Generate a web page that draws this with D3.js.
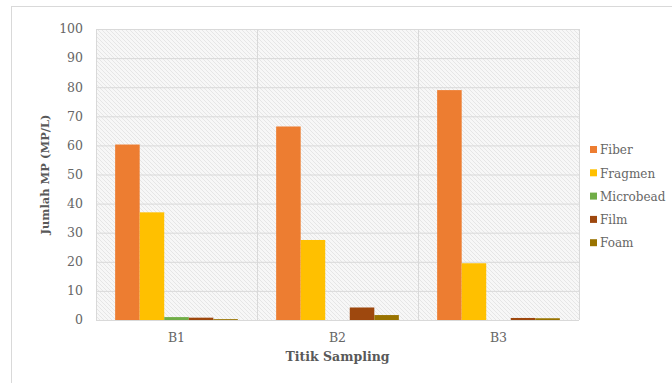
<!DOCTYPE html>
<html><head><meta charset="utf-8">
<script src="https://cdn.jsdelivr.net/npm/d3@7"></script>
<style>body{margin:0;background:#fff}svg{display:block}</style>
</head><body>
<svg id="c" width="672" height="383"></svg>
<script>
const categories = ["B1", "B2", "B3"];
const seriesNames = ["Fiber", "Fragmen", "Microbead", "Film", "Foam"];
const fiber = [60.3, 66.5, 79.0];
const fragmen = [37.0, 27.5, 19.5];
const microbead = [1.0, 0.0, 0.0];
const film = [0.8, 4.3, 0.7];
const foam = [0.3, 1.7, 0.6];
const yTicks = [0, 10, 20, 30, 40, 50, 60, 70, 80, 90, 100];
const colors = ["#ED7D31", "#FFC000", "#70AD47", "#9E480E", "#997300"];
const seriesValues = [fiber, fragmen, microbead, film, foam];

const svg = d3.select("#c");
const font = "'DejaVu Serif', serif";
const M = {l: 96, r: 579, t: 29, b: 320};

// outer frame
svg.append("rect").attr("x", 11.5).attr("y", 6.5).attr("width", 700).attr("height", 400)
  .attr("fill", "#fff").attr("stroke", "#d9d9d9").attr("stroke-width", 1);

const defs = svg.append("defs");
const pat = defs.append("pattern").attr("id", "hatch").attr("patternUnits", "userSpaceOnUse")
  .attr("width", 4).attr("height", 4);
pat.append("rect").attr("width", 4).attr("height", 4).attr("fill", "#f7f7f7");
pat.append("path").attr("d", "M-1,-1 L5,5 M3,-1 L5,1 M-1,3 L1,5").attr("stroke", "#e2e2e2").attr("stroke-width", 0.8);

const x0 = d3.scaleBand().domain(categories).range([M.l, M.r]).paddingInner(0).paddingOuter(0);
const x1 = d3.scaleBand().domain(seriesNames).range([0, x0.bandwidth()]).paddingOuter(0.78).paddingInner(0);
const y = d3.scaleLinear().domain([0, 100]).range([M.b, M.t]);

svg.append("rect").attr("x", M.l).attr("y", M.t).attr("width", M.r - M.l).attr("height", M.b - M.t)
  .attr("fill", "url(#hatch)");

// gridlines
svg.append("g").selectAll("line").data(yTicks).join("line")
  .attr("x1", M.l).attr("x2", M.r).attr("y1", d => y(d) + 0.5).attr("y2", d => y(d) + 0.5)
  .attr("stroke", "#d9d9d9").attr("stroke-width", 1);
const vlines = categories.map(c => x0(c)).concat([M.r]);
svg.append("g").selectAll("line").data(vlines).join("line")
  .attr("x1", d => Math.round(d) + 0.5).attr("x2", d => Math.round(d) + 0.5)
  .attr("y1", M.t).attr("y2", M.b)
  .attr("stroke", "#d9d9d9").attr("stroke-width", 1);

// bars
const g = svg.append("g");
categories.forEach((c, ci) => {
  seriesNames.forEach((s, si) => {
    const v = seriesValues[si][ci];
    if (v <= 0) return;
    g.append("rect").attr("x", x0(c) + x1(s)).attr("width", x1.bandwidth())
      .attr("y", y(v)).attr("height", y(0) - y(v)).attr("fill", colors[si]);
  });
});

// y tick labels
svg.append("g").selectAll("text").data(yTicks).join("text")
  .attr("x", 83).attr("y", d => y(d)).attr("dy", "0.35em").attr("text-anchor", "end")
  .attr("font-family", font).attr("font-size", 12.5).attr("fill", "#666").text(d => d);

// x labels
svg.append("g").selectAll("text").data(categories).join("text")
  .attr("x", d => x0(d) + x0.bandwidth() / 2).attr("y", 342).attr("text-anchor", "middle")
  .attr("font-family", font).attr("font-size", 12.5).attr("fill", "#666").text(d => d);

// axis titles
svg.append("text").attr("x", (M.l + M.r) / 2).attr("y", 361).attr("text-anchor", "middle")
  .attr("font-family", font).attr("font-size", 12.5).attr("font-weight", "bold").attr("fill", "#595959")
  .text("Titik Sampling");
svg.append("text").attr("transform", `translate(49,${(M.t + M.b) / 2}) rotate(-90)`)
  .attr("text-anchor", "middle").attr("font-family", font).attr("font-size", 11.5)
  .attr("font-weight", "bold").attr("fill", "#595959").text("Jumlah MP (MP/L)");

// legend
const lg = svg.append("g");
seriesNames.forEach((s, i) => {
  const yy = 150 + i * 23.3;
  lg.append("rect").attr("x", 590).attr("y", yy - 4).attr("width", 7).attr("height", 7).attr("fill", colors[i]);
  lg.append("text").attr("x", 600).attr("y", yy).attr("dy", "0.35em")
    .attr("font-family", font).attr("font-size", 12).attr("fill", "#666").text(s);
});
</script>
</body></html>
